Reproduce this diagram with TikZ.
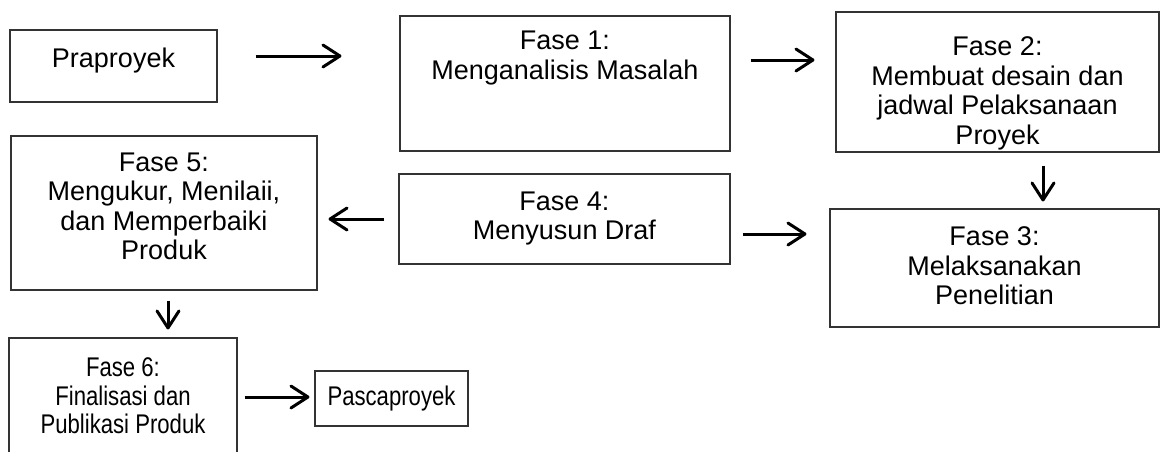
\documentclass[tikz,border=0pt]{standalone}
\usepackage{fontspec}
\setmainfont{Liberation Sans}
\newfontfamily\narrowfont[FakeStretch=0.82]{Liberation Sans}
\usepackage{tikz}
\usetikzlibrary{positioning,arrows.meta}
\definecolor{edge}{HTML}{333333}
\definecolor{ink}{HTML}{000000}
\tikzset{
  box/.style={draw=edge, line width=1.1pt, inner sep=0pt},
  txt/.style={text=ink, align=center, inner sep=0pt, font=\fontsize{27}{29.5}\selectfont},
  txtn/.style={txt, font=\narrowfont\fontsize{27}{28.5}\selectfont},
  arr/.style={draw=ink, line width=3pt, -{Straight Barb[length=17pt,width=22pt,round]}},
}

\begin{document}
\begin{tikzpicture}[x=1pt,y=-1pt]
  \useasboundingbox (0,0) rectangle (1161,451);
  % kotak
  \node[box, minimum width=207pt, minimum height=72pt]  (pra)   at (113.5,66)  {};
  \node[box, minimum width=330pt, minimum height=135pt] (f1)    at (565,83.5)  {};
  \node[box, minimum width=323pt, minimum height=140pt] (f2)    at (997.5,82)  {};
  \node[box, minimum width=329pt, minimum height=118pt] (f3)    at (994.5,268) {};
  \node[box, minimum width=331pt, minimum height=90pt]  (f4)    at (564.5,219) {};
  \node[box, minimum width=306pt, minimum height=154pt] (f5)    at (164,213)   {};
  \node[box, minimum width=228pt, minimum height=132pt] (f6)    at (123,404)   {};
  \node[box, txtn, minimum width=153pt, minimum height=55pt] (pasca) at (391.5,398.5) {Pascaproyek};
  % teks
  \node[txt, below=18.5pt of pra.north] (pratxt) {Praproyek};
  \node[txt, below=15.5pt of f1.north] (f1txt) {Fase 1:\\Menganalisis Masalah};
  \node[txt, below=25pt of f2.north] (f2txt) {Fase 2:\\Membuat desain dan\\jadwal Pelaksanaan\\Proyek};
  \node[txt, below=18pt of f3.north] (f3txt) {Fase 3:\\Melaksanakan\\Penelitian};
  \node[txt, below=18pt of f4.north] (f4txt) {Fase 4:\\Menyusun Draf};
  \node[txt, below=17pt of f5.north] (f5txt) {Fase 5:\\Mengukur, Menilaii,\\dan Memperbaiki\\Produk};
  \node[txtn, below=20pt of f6.north] (f6txt) {Fase 6:\\Finalisasi dan\\Publikasi Produk};
  % panah
  \draw[arr, shorten <=38pt, shorten >=58pt] ([yshift=10pt]pra.east) -- ([yshift=10pt]pra.east -| f1.west);
  \draw[arr, shorten <=20pt, shorten >=21pt] ([yshift=23.5pt]f1.east) -- ([yshift=23.5pt]f1.east -| f2.west);
  \draw[arr, shorten <=13pt, shorten >=7pt] ([xshift=45.5pt]f2.south) -- ([xshift=45.5pt]f2.south |- f3.north);
  \draw[arr, shorten <=12pt, shorten >=23pt] ([yshift=-15pt]f4.east) -- ([yshift=-15pt]f4.east -| f3.west);
  \draw[arr, shorten <=14pt, shorten >=11pt] (f4.west) -- (f4.west -| f5.east);
  \draw[arr, shorten <=10pt, shorten >=8pt] ([xshift=4pt]f5.south) -- ([xshift=4pt]f5.south |- f6.north);
  \draw[arr, shorten <=7pt, shorten >=5pt] ([yshift=7pt]f6.east) -- ([yshift=7pt]f6.east -| pasca.west);
\end{tikzpicture}
\end{document}
